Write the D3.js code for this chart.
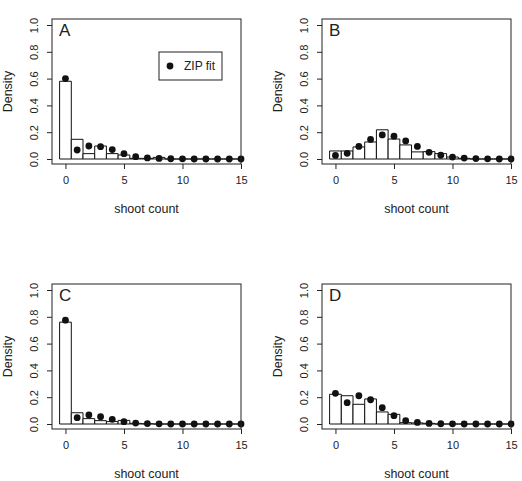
<!DOCTYPE html>
<html>
<head>
<meta charset="utf-8">
<script src="https://cdn.jsdelivr.net/npm/d3@7"></script>
<style>
  body { margin: 0; background: white; }
  text { font-family: "Liberation Sans", Arial, sans-serif; fill: #222; }
</style>
</head>
<body>
<script>
// shoot counts 0..15
const counts = d3.range(0, 16)
const panelLabels = ["A", "B", "C", "D"]
const xTicks = [0, 5, 10, 15]
const yTicks = [0, 0.2, 0.4, 0.6, 0.8, 1.0]

// observed densities (bars)
const barsA = [0.58, 0.147, 0.04, 0.097, 0.04, 0.03, 0.005, 0.005, 0.012, 0, 0, 0, 0, 0, 0, 0]
const barsB = [0.06, 0.06, 0.09, 0.127, 0.218, 0.149, 0.105, 0.053, 0.055, 0.04, 0.015, 0.005, 0, 0, 0, 0]
const barsC = [0.76, 0.084, 0.04, 0.025, 0.018, 0.027, 0.005, 0.002, 0, 0, 0, 0, 0, 0, 0, 0]
const barsD = [0.222, 0.211, 0.147, 0.187, 0.09, 0.072, 0.01, 0.008, 0.005, 0, 0, 0, 0, 0, 0, 0]

// ZIP fitted densities (dots)
const fitA = [0.60, 0.067, 0.097, 0.092, 0.07, 0.04, 0.017, 0.008, 0.004, 0.002, 0.001, 0, 0, 0, 0, 0]
const fitB = [0.027, 0.042, 0.094, 0.146, 0.18, 0.17, 0.135, 0.094, 0.05, 0.028, 0.014, 0.007, 0.003, 0.001, 0, 0]
const fitC = [0.775, 0.047, 0.067, 0.055, 0.035, 0.017, 0.007, 0.003, 0.001, 0, 0, 0, 0, 0, 0, 0]
const fitD = [0.229, 0.159, 0.211, 0.181, 0.122, 0.062, 0.025, 0.012, 0.004, 0.002, 0.001, 0, 0, 0, 0, 0]

const allBars = [barsA, barsB, barsC, barsD]
const allFits = [fitA, fitB, fitC, fitD]

let svg = d3.select("body")
    .append("svg")
    .attr("width", 522)
    .attr("height", 481)

let boxLeft = 52, boxTop = 19, boxW = 189, boxH = 145

function drawPanel(i){
    let ox = (i % 2) * 270
    let oy = Math.floor(i / 2) * 265
    let g = svg.append("g")
        .attr("transform", "translate(" + ox + "," + oy + ")")

    let x = d3.scaleLinear()
        .domain([-1.15, 15])
        .range([boxLeft, boxLeft + boxW])
    let y = d3.scaleLinear()
        .domain([0, 1])
        .range([boxTop + 140, boxTop + 6])

    g.append("clipPath")
        .attr("id", "clip" + i)
        .append("rect")
        .attr("x", boxLeft).attr("y", boxTop)
        .attr("width", boxW).attr("height", boxH)

    // histogram bars
    let data = counts.map((c, k) => ({c: c, v: allBars[i][k], f: allFits[i][k]}))
    g.append("g")
        .attr("clip-path", "url(#clip" + i + ")")
        .selectAll("path")
        .data(data)
        .enter()
        .append("path")
            .attr("d", d => {
                let p = d3.path()
                p.rect(x(d.c - 0.5), y(d.v), x(d.c + 0.5) - x(d.c - 0.5), y(0) - y(d.v))
                return p.toString()
            })
            .attr("fill", "white")
            .attr("stroke", "#111")
            .attr("stroke-width", 1)

    // fitted dots
    g.append("g")
        .selectAll("circle")
        .data(data)
        .enter()
        .append("circle")
            .attr("cx", d => x(d.c))
            .attr("cy", d => y(d.f))
            .attr("r", 3.4)
            .attr("fill", "#111")

    // box
    g.append("rect")
        .attr("x", boxLeft).attr("y", boxTop)
        .attr("width", boxW).attr("height", boxH)
        .attr("fill", "none")
        .attr("stroke", "#222")
        .attr("stroke-width", 1)

    // axes
    let xAxis = g.append("g")
        .attr("transform", "translate(0," + (boxTop + boxH) + ")")
        .call(d3.axisBottom(x).tickValues(xTicks).tickSize(5).tickPadding(7).tickFormat(d3.format("d")))
    xAxis.select(".domain").remove()
    xAxis.selectAll("text").style("font-size", "11px").attr("fill", "#222")
    xAxis.selectAll("line").attr("stroke", "#222")

    let yAxis = g.append("g")
        .attr("transform", "translate(" + boxLeft + ",0)")
        .call(d3.axisLeft(y).tickValues(yTicks).tickSize(5).tickFormat(d3.format(".1f")))
    yAxis.select(".domain").remove()
    yAxis.selectAll("line").attr("stroke", "#222")
    // rotated tick labels, like R's default las
    yAxis.selectAll("text")
        .attr("x", null).attr("dy", null).attr("y", null)
        .attr("text-anchor", "middle")
        .attr("transform", "translate(-14,0)rotate(-90)")
        .style("font-size", "11px")
        .attr("fill", "#222")

    // labels
    g.append("text")
        .attr("text-anchor", "middle")
        .attr("transform", "translate(12," + (boxTop + boxH / 2) + ")rotate(-90)")
        .style("font-size", "12.5px")
        .text("Density")

    g.append("text")
        .attr("text-anchor", "middle")
        .attr("x", boxLeft + boxW / 2)
        .attr("y", boxTop + boxH + 49)
        .style("font-size", "12.5px")
        .text("shoot count")

    g.append("text")
        .attr("x", boxLeft + 7)
        .attr("y", boxTop + 17)
        .style("font-size", "17px")
        .text(panelLabels[i])

    if (i == 0){
        let lg = g.append("g")
            .attr("transform", "translate(" + (boxLeft + 107) + "," + (boxTop + 33) + ")")
        lg.append("rect")
            .attr("width", 63).attr("height", 28)
            .attr("fill", "white")
            .attr("stroke", "#222")
        lg.append("circle")
            .attr("cx", 11).attr("cy", 14).attr("r", 3.4)
            .attr("fill", "#111")
        lg.append("text")
            .attr("x", 25).attr("y", 18)
            .style("font-size", "12px")
            .text("ZIP fit")
    }
}

for (let i = 0; i < 4; i++) drawPanel(i)
</script>
</body>
</html>
